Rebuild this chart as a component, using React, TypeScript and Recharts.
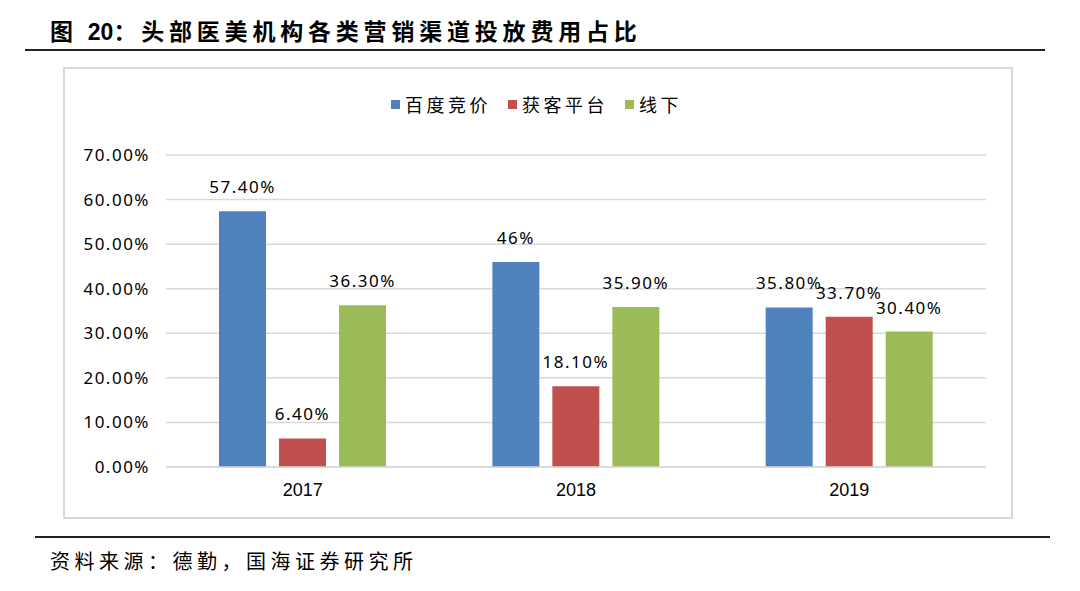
import React from "react";
import { BarChart, Bar, XAxis, YAxis, CartesianGrid, LabelList } from "recharts";

const years = ["2017", "2018", "2019"];
const baidu = [57.4, 46, 35.8];
const platform = [6.4, 18.1, 33.7];
const offline = [36.3, 35.9, 30.4];
const baiduLabels = ["57.40%", "46%", "35.80%"];
const platformLabels = ["6.40%", "18.10%", "33.70%"];
const offlineLabels = ["36.30%", "35.90%", "30.40%"];
const yTicks = [0, 10, 20, 30, 40, 50, 60, 70];
const seriesNames = ["百度竞价", "获客平台", "线下"];
const colors = ["#4F81BD", "#C0504D", "#9BBB59"];

const data = years.map((y, i) => ({
  year: y,
  baidu: baidu[i],
  platform: platform[i],
  offline: offline[i],
  baiduLabel: baiduLabels[i],
  platformLabel: platformLabels[i],
  offlineLabel: offlineLabels[i],
}));

const numFont = "'Noto Sans', 'DejaVu Sans', sans-serif";
const cjkFont = "'Noto Sans CJK SC', sans-serif";
const numStyle = { fontFamily: numFont, fontSize: 17, fill: "#000", letterSpacing: 1.5 };

const LegendBox = () => (
  <div
    style={{
      position: "absolute",
      left: 391,
      top: 91,
      display: "flex",
      alignItems: "center",
      fontFamily: cjkFont,
      fontSize: 18,
      letterSpacing: 3.5,
      color: "#000",
      whiteSpace: "nowrap",
    }}
  >
    {seriesNames.map((n, i) => (
      <div key={n} style={{ display: "flex", alignItems: "center", marginRight: 17 }}>
        <span style={{ width: 9, height: 9, background: colors[i], display: "inline-block", marginRight: 5 }} />
        <span>{n}</span>
      </div>
    ))}
  </div>
);

export default function App() {
  return (
    <div style={{ position: "absolute", left: 0, top: 0, width: 1080, height: 591, background: "#fff", overflow: "hidden" }}>
      <div
        style={{
          position: "absolute",
          left: 50,
          top: 13,
          fontFamily: cjkFont,
          fontSize: 23,
          fontWeight: 700,
          color: "#000",
          whiteSpace: "nowrap",
          letterSpacing: 4.8,
        }}
      >
        图 <span style={{ fontFamily: "'Liberation Sans', Arial, sans-serif", letterSpacing: 0 }}>20</span>：头部医美机构各类营销渠道投放费用占比
      </div>
      <div style={{ position: "absolute", left: 25, top: 49, width: 1020, height: 2, background: "#222" }} />
      <div
        style={{
          position: "absolute",
          left: 63,
          top: 67,
          width: 950,
          height: 452,
          border: "2px solid #d9d9d9",
          boxSizing: "border-box",
        }}
      />
      <div style={{ position: "absolute", left: 64, top: 68 }}>
        <BarChart
          width={950}
          height={452}
          data={data}
          margin={{ top: 87, right: 28, bottom: 23, left: 0 }}
          barCategoryGap="19.4%"
          barGap={13}
        >
          <CartesianGrid vertical={false} stroke="#d9d9d9" strokeWidth={1.5} />
          <XAxis
            dataKey="year"
            axisLine={{ stroke: "#d9d9d9", strokeWidth: 1.5 }}
            tickLine={false}
            height={30}
            tick={{ fontFamily: "'Liberation Sans Narrow', 'Liberation Sans', sans-serif", fontSize: 18, fill: "#000" }}
            tickMargin={10}
          />
          <YAxis
            domain={[0, 70]}
            ticks={yTicks}
            width={102}
            axisLine={false}
            tickLine={false}
            tickMargin={10}
            tickFormatter={(v: number) => v.toFixed(2) + "%"}
            tick={numStyle}
            interval={0}
          />
          <Bar dataKey="baidu" fill={colors[0]} isAnimationActive={false}>
            <LabelList dataKey="baiduLabel" position="top" offset={18} style={numStyle} />
          </Bar>
          <Bar dataKey="platform" fill={colors[1]} isAnimationActive={false}>
            <LabelList dataKey="platformLabel" position="top" offset={18} style={numStyle} />
          </Bar>
          <Bar dataKey="offline" fill={colors[2]} isAnimationActive={false}>
            <LabelList dataKey="offlineLabel" position="top" offset={18} style={numStyle} />
          </Bar>
        </BarChart>
      </div>
      <LegendBox />
      <div style={{ position: "absolute", left: 35, top: 536, width: 1015, height: 2, background: "#222" }} />
      <div
        style={{
          position: "absolute",
          left: 50,
          top: 546,
          fontFamily: cjkFont,
          fontSize: 20,
          color: "#000",
          whiteSpace: "nowrap",
          letterSpacing: 4.5,
        }}
      >
        资料来源：德勤，国海证券研究所
      </div>
    </div>
  );
}
